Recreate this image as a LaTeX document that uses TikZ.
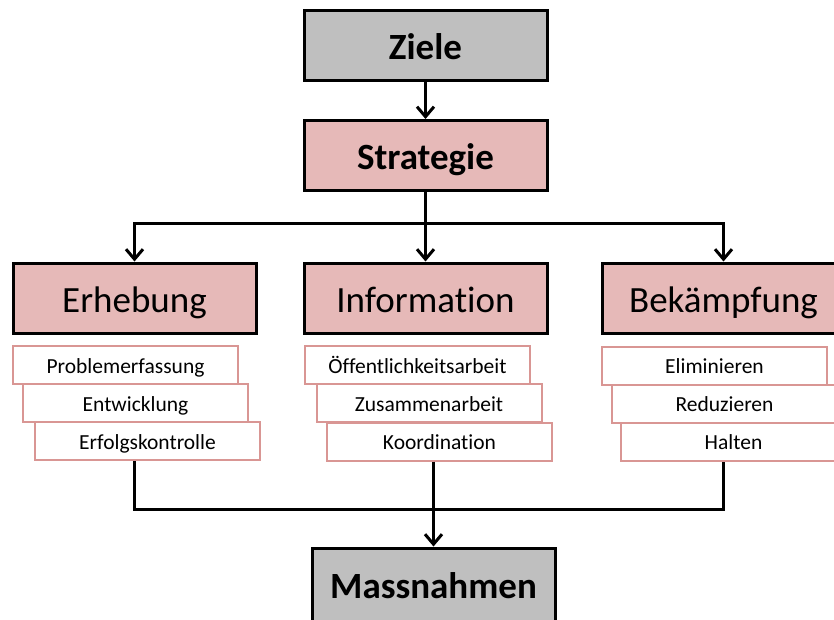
\documentclass[tikz,border=0pt]{standalone}
\usepackage{fontspec}
\setmainfont{Carlito}[Ligatures=NoCommon]
\usetikzlibrary{arrows.meta}

\definecolor{headgray}{RGB}{191,191,191}
\definecolor{headpink}{RGB}{230,185,184}
\definecolor{itemborder}{RGB}{217,150,148}

\begin{document}
\begin{tikzpicture}[
        x=1pt, y=-1pt,
        head/.style={rectangle, draw, line width=3pt, fill=headpink, minimum width=243pt, minimum height=70pt, inner sep=0pt, text height=28pt, text depth=0pt, font=\fontsize{37}{40}\selectfont},
        mainhead/.style={head, fill=headgray, font=\fontsize{37}{40}\selectfont\bfseries},
        item/.style={rectangle, draw=itemborder, line width=2pt, fill=white, minimum width=225pt, minimum height=38pt, inner sep=0pt, text height=16.5pt, text depth=0pt, font=\fontsize{21.5}{24}\selectfont},
        conn/.style={line width=3pt},
        arrow/.style={conn, -{Straight Barb[length=10pt,width=17pt]}}
    ]
        \useasboundingbox (0,0) rectangle (834,619);
        \clip (0,0) rectangle (834,619);

        % Top nodes
        \node[mainhead] (ziele) at (425.5, 45.5) {Ziele};
        \node[head, font=\fontsize{37}{40}\selectfont\bfseries] (strategie) at (425.5, 155.5) {Strategie};

        % Second level nodes
        \node[head] (erhebung) at (134.5, 298) {Erhebung};
        \node[head] (information) at (425.5, 298) {Information};
        \node[head] (bekaempfung) at (723.5, 298) {Bekämpfung};

        % Items below each column
        \node[item] (problem) at (125.5, 365) {Problemerfassung};
        \node[item] (entwicklung) at (135.5, 403) {Entwicklung\hspace{26pt}};
        \node[item] (erfolg) at (147.5, 441) {Erfolgskontrolle};

        \node[item] (oeffentlich) at (417.5, 365) {Öffentlichkeitsarbeit};
        \node[item] (zusammen) at (429, 403) {Zusammenarbeit};
        \node[item] (koord) at (439.5, 441.5) {Koordination};

        \node[item] (eliminieren) at (714.5, 365.5) {Eliminieren};
        \node[item] (reduzieren) at (724.5, 403.5) {Reduzieren};
        \node[item] (halten) at (733.5, 441.5) {Halten};

        % Bottom node (cut off by the page edge)
        \node[mainhead, minimum height=80pt, text height=20pt] (massnahmen) at (433.5, 588) {Massnahmen};

        % Connections
        \coordinate (topbar) at (0, 223);
        \coordinate (botbar) at (0, 509);
        \draw[arrow] (ziele) -- (strategie);
        \draw[arrow] (strategie) -- (information);
        \draw[arrow] (strategie.south |- topbar) -| (erhebung.north);
        \draw[arrow] (strategie.south |- topbar) -| (bekaempfung.north);
        \draw[conn] (erfolg.south -| erhebung.south) |- (botbar -| bekaempfung.south) -- (halten.south -| bekaempfung.south);
        \draw[arrow] (koord.south -| massnahmen.north) -- (massnahmen.north);

    \end{tikzpicture}
\end{document}
